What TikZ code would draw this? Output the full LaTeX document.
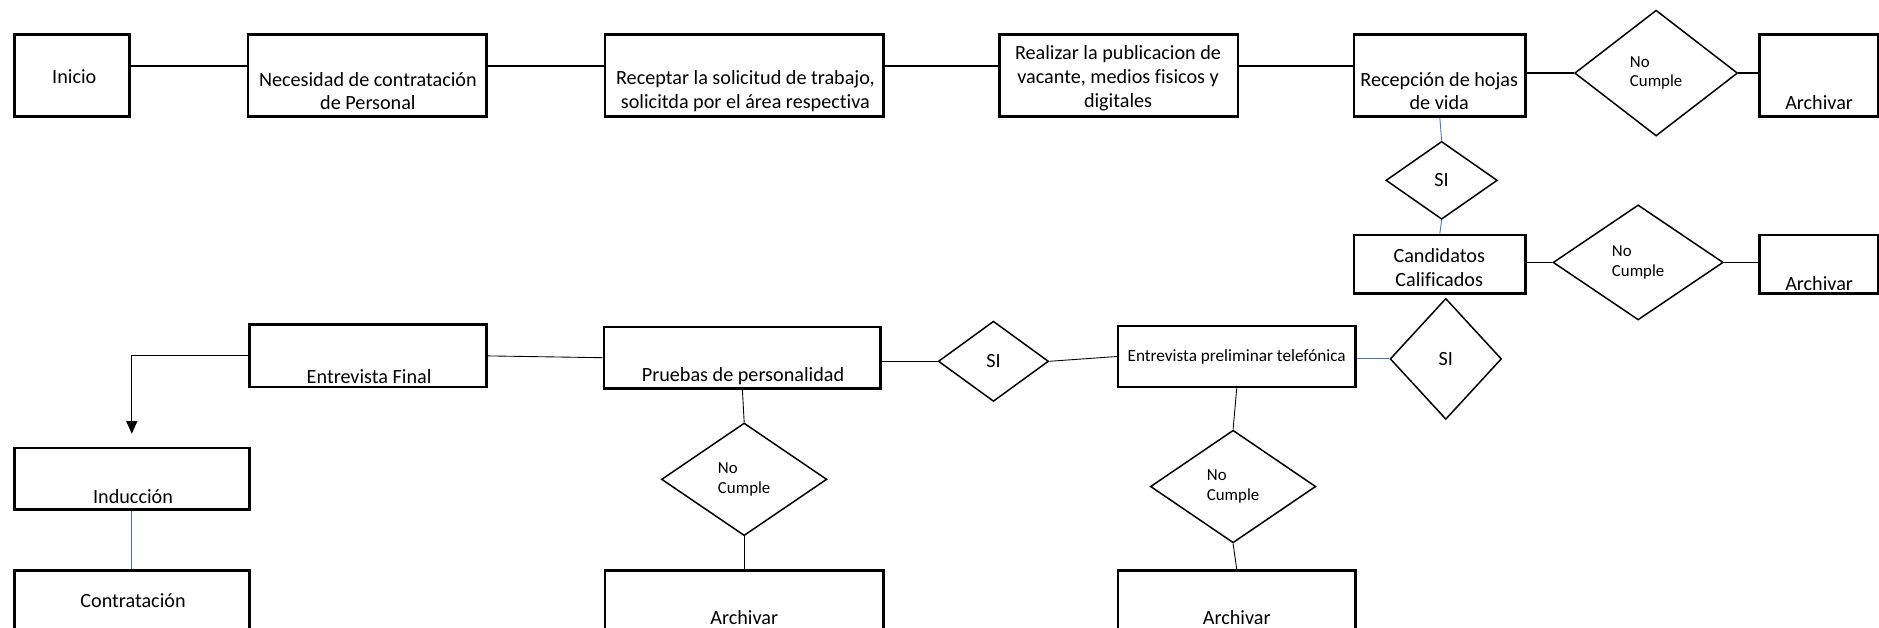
\documentclass[tikz,border=0pt]{standalone}
\usepackage{fontspec}
\setmainfont{Carlito}[Ligatures=CommonOff]
\usetikzlibrary{shapes.geometric,arrows.meta,positioning}
\definecolor{linkblue}{RGB}{68,114,196}
\newcommand{\unitpx}{0.024cm}

\tikzset{
  stepbox/.style={draw, line width=1.5pt, inner sep=0pt},
  boxsize/.style 2 args={minimum width=#1*\unitpx, minimum height=#2*\unitpx},
  decision/.style={diamond, draw, line width=0.85pt, inner sep=0pt, align=left,
                   font=\fontsize{9.6}{11}\selectfont},
  sidecision/.style={decision, font=\fontsize{11.5}{13.6}\selectfont},
  boxtext/.style={inner sep=0pt, align=center, font=\fontsize{11.5}{13.6}\selectfont},
  mainlink/.style={line width=0.8pt},
  thinlink/.style={line width=0.5pt},
  bluelink/.style={draw=linkblue, line width=0.5pt},
}

\begin{document}
\begin{tikzpicture}[x=\unitpx, y=-\unitpx]
    \useasboundingbox (0,0) rectangle (1568,524);

    % top row
    \node[stepbox, boxsize={96}{68}]  (inicio)     at (60,63)     {};
    \node[stepbox, boxsize={199}{68}] (necesidad)  at (306.5,63)  {};
    \node[stepbox, boxsize={232}{68}] (receptar)   at (621,63)    {};
    \node[stepbox, boxsize={199}{68}] (realizar)   at (933.5,63)  {};
    \node[stepbox, boxsize={143}{68}] (recepcion)  at (1201.5,63) {};
    \node[stepbox, boxsize={99}{68}]  (archivarA)  at (1517.5,63) {};

    % right column
    \node[stepbox, boxsize={143}{49}] (candidatos) at (1201.5,220.5) {};
    \node[stepbox, boxsize={99}{49}]  (archivarB)  at (1517.5,220.5) {};

    % interview row
    \node[stepbox, boxsize={198}{51}] (prelim)     at (1032,297.5) {};
    \node[stepbox, boxsize={231}{51}] (pruebas)    at (619.5,298.5) {};
    \node[stepbox, boxsize={198}{52}] (final)      at (307,297)    {};

    % bottom
    \node[stepbox, boxsize={196}{51}] (induccion)    at (110,399.5) {};
    \node[stepbox, boxsize={196}{52}] (contratacion) at (110,502)   {};
    \node[stepbox, boxsize={232}{52}] (archivarC)    at (621,502)   {};
    \node[stepbox, boxsize={198}{52}] (archivarD)    at (1032,502)  {};

    % box texts
    \node[boxtext] (inicio-t)     at (62,64)     {Inicio};
    \node[boxtext] (necesidad-t)  at (307,76)    {Necesidad de contratación\\de Personal};
    \node[boxtext] (receptar-t)   at (622,76)    {Receptar la solicitud de trabajo,\\solicitda por el área respectiva};
    \node[boxtext] (realizar-t)   at (933,65)    {Realizar la publicacion de\\vacante, medios fisicos y\\digitales};
    \node[boxtext] (recepcion-t)  at (1201,76)   {Recepción de hojas\\de vida};
    \node[boxtext] (archivarA-t)  at (1518,86)   {Archivar};
    \node[boxtext] (candidatos-t) at (1201,223.5) {Candidatos\\Calificados};
    \node[boxtext] (archivarB-t)  at (1518,237)  {Archivar};
    \node[boxtext, font=\fontsize{9.8}{12}\selectfont] (prelim-t) at (1032,298) {Entrevista preliminar telefónica};
    \node[boxtext] (pruebas-t)    at (620,314)   {Pruebas de personalidad};
    \node[boxtext] (final-t)      at (308,314)   {Entrevista Final};
    \node[boxtext] (induccion-t)  at (111,414)   {Inducción};
    \node[boxtext] (contratacion-t) at (111,501.5) {Contratación};
    \node[boxtext] (archivarC-t)  at (621,515)   {Archivar};
    \node[boxtext] (archivarD-t)  at (1032,515)  {Archivar};

    % decisions
    \node[decision, minimum width=136*\unitpx, minimum height=105*\unitpx] (ncA) at (1382,61) {No\\Cumple};
    \node[sidecision, minimum width=93*\unitpx, minimum height=65*\unitpx] (siA) at (1203,150.5) {SI};
    \node[decision, minimum width=142*\unitpx, minimum height=96*\unitpx] (ncB) at (1367,219) {No\\Cumple};
    \node[sidecision, minimum width=93*\unitpx, minimum height=101*\unitpx] (siB) at (1206.5,299.5) {SI};
    \node[sidecision, minimum width=92*\unitpx, minimum height=67*\unitpx] (siC) at (829,301.5) {SI};
    \node[decision, minimum width=138*\unitpx, minimum height=94*\unitpx] (ncC) at (621,400) {No\\Cumple};
    \node[decision, minimum width=138*\unitpx, minimum height=94*\unitpx] (ncD) at (1029,406) {No\\Cumple};

    % connectors, top row
    \draw[mainlink] ([yshift=8*\unitpx]inicio.east) -- ([yshift=8*\unitpx]necesidad.west);
    \draw[mainlink] ([yshift=8*\unitpx]necesidad.east) -- ([yshift=8*\unitpx]receptar.west);
    \draw[mainlink] ([yshift=8*\unitpx]receptar.east) -- ([yshift=8*\unitpx]realizar.west);
    \draw[mainlink] ([yshift=8*\unitpx]realizar.east) -- ([yshift=8*\unitpx]recepcion.west);
    \draw[mainlink] (recepcion.east |- ncA.west) -- (ncA.west);
    \draw[mainlink] (ncA.east) -- (ncA.east -| archivarA.west);

    % right column
    \draw[bluelink] (recepcion.south) -- (siA.north);
    \draw[bluelink] (siA.south) -- (candidatos.north);
    \draw[mainlink] (candidatos.east |- ncB.west) -- (ncB.west);
    \draw[mainlink] (ncB.east) -- (ncB.east -| archivarB.west);
    \draw[bluelink] (siB.west -| prelim.east) -- (siB.west);

    % interview row
    \draw[thinlink] (prelim.west) -- (siC.east);
    \draw[thinlink] (siC.west) -- (siC.west -| pruebas.east);
    \draw[thinlink] (pruebas.west) -- (final.east);
    \draw[thinlink, -{Triangle[length=0.25cm, width=0.22cm]}, shorten >=11*\unitpx]
        (final.west) -| (induccion.north);
    \draw[bluelink] (induccion.south) -- (contratacion.north);

    % rejected branches
    \draw[thinlink] (pruebas.south) -- (ncC.north);
    \draw[thinlink] (ncC.south) -- (archivarC.north);
    \draw[thinlink] (prelim.south) -- (ncD.north);
    \draw[thinlink] (ncD.south) -- (archivarD.north);
\end{tikzpicture}
\end{document}
